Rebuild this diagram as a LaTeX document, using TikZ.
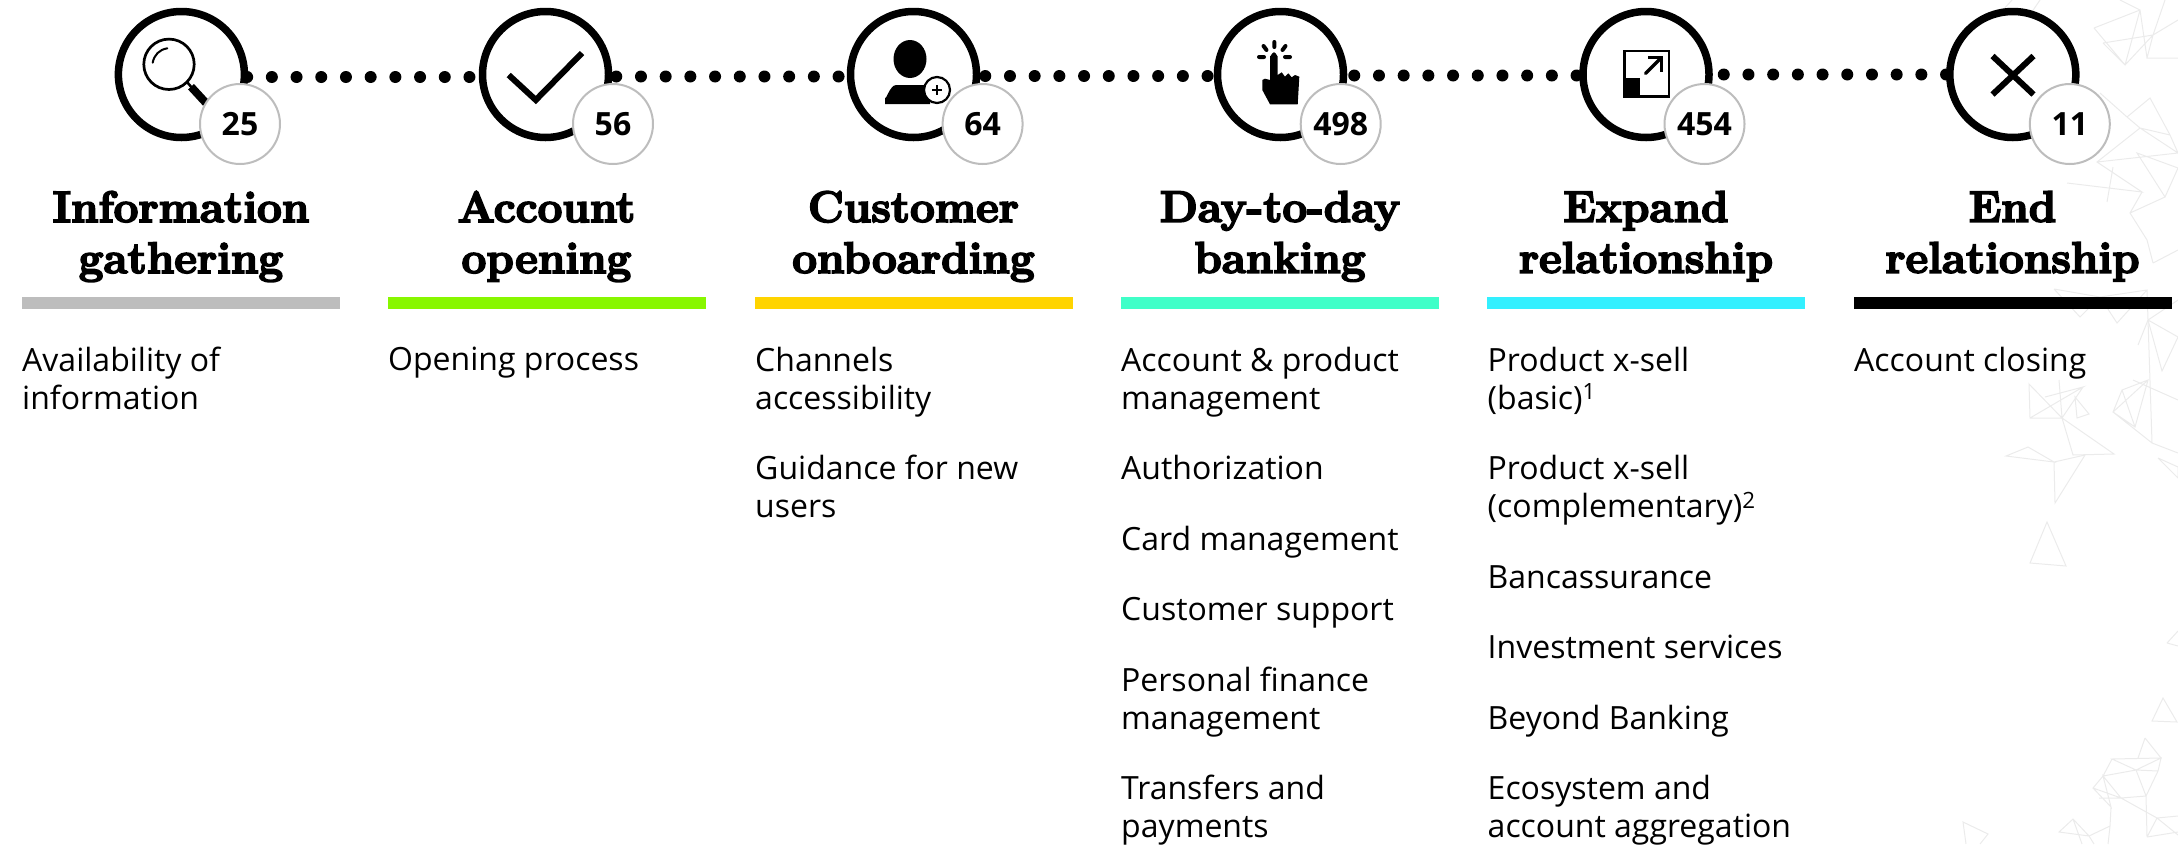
\documentclass[tikz,border=0pt]{standalone}
\usepackage{fontspec}
\setmainfont{Open Sans}
\newfontfamily\headfont[BoldFeatures={FakeBold=4}]{Latin Modern Roman}
\definecolor{meshgray}{HTML}{EBEBEB}
\definecolor{ringgray}{HTML}{BDBDBD}
\definecolor{bargreen}{HTML}{88F700}
\definecolor{baryellow}{HTML}{FFD400}
\definecolor{barteal}{HTML}{40FFC8}
\definecolor{barcyan}{HTML}{33F0FF}
\tikzset{
  stagering/.style={circle,draw=black,fill=white,line width=7.5pt,minimum size=126pt,inner sep=0pt},
  countbadge/.style={circle,draw=ringgray,fill=white,line width=2pt,minimum size=80pt,inner sep=0pt,font=\fontsize{32}{36}\selectfont\bfseries},
  stagehead/.style={align=center,inner sep=0pt,anchor=north,font=\fontsize{44}{51}\selectfont\headfont\bfseries},
  stagebar/.style={minimum width=318pt,minimum height=12pt,inner sep=0pt},
  stagelist/.style={align=left,inner sep=0pt,anchor=north west,font=\fontsize{32}{38}\selectfont},
  dotline/.style={line width=12pt,line cap=round,dash pattern=on 0pt off 24.7pt},
  meshline/.style={draw=meshgray,line width=1pt}
}
\begin{document}
\begin{tikzpicture}[x=1pt,y=-1pt]
  \useasboundingbox (0,0) rectangle (2178,844);

  \draw[meshline] (1983,32) -- (2012,0) (2025,22) -- (2040,0);
  \draw[meshline] (2094,28) -- (2125,65) -- (2140,10) -- (2120,0) (2094,28) -- (2140,10) (2103,43) -- (2153,35) -- (2178,20) (2125,65) -- (2153,35) -- (2147,58) -- (2178,58) (2103,43) -- (2125,65) (2140,10) -- (2147,58) (2165,0) -- (2153,35);
  \draw[meshline] (2100,93) -- (2127,117) -- (2150,98) -- (2170,135) -- (2140,128) -- (2097,162) -- (2142,192) -- (2067,183) (2127,117) -- (2140,128) -- (2178,153) -- (2097,162) (2113,167) -- (2107,202) (2142,192) -- (2130,213) -- (2147,240) -- (2153,263) (2165,197) -- (2178,168) -- (2137,153) -- (2165,197) -- (2130,213) (2170,135) -- (2178,153) (2153,263) -- (2178,250);
  \draw[meshline] (2054,289) -- (2100,297) -- (2147,290) -- (2148,320) -- (2162,371) -- (2178,337) -- (2148,320) -- (2138,345) (2054,289) -- (2080,317) -- (2100,297) -- (2117,323) -- (2147,290) (2148,320) -- (2178,300);
  \draw[meshline] (2148,380) -- (2113,412) -- (2135,427) -- (2148,380) -- (2122,390) -- (2113,412) (2122,390) -- (2135,427) (2148,320) -- (2152,443) -- (2178,453) (2113,412) -- (2152,443) (2133,380) -- (2178,400) (2158,458) -- (2178,478) -- (2178,467) -- (2158,458);
  \draw[meshline] (2029,384) -- (2062,418) -- (2030,418) -- cycle (2030,418) -- (2083,387) -- (2045,397) (2083,387) -- (2062,418) (2075,397) -- (2089,414) -- (2077,418) -- cycle (2059,380) -- (2062,418) -- (2114,454) -- (2073,455) -- (2062,418);
  \draw[meshline] (2006,456) -- (2028,447) -- (2054,462) -- cycle (2054,462) -- (2055,503) -- (2085,455) -- cycle;
  \draw[meshline] (2047,522) -- (2030,563) -- (2066,566) -- cycle;
  \draw[meshline] (2167,643) -- (2178,631) (2167,643) -- (2178,646);
  \draw[meshline] (2163,698) -- (2152,721) -- (2177,722) -- cycle;
  \draw[meshline] (2145,738) -- (2161,758) -- (2112,759) -- (2136,770) -- (2161,758) -- (2158,771) -- (2136,770) -- (2146,796) -- (2147,837) (2145,738) -- (2138,758) (2112,759) -- (2103,776) -- (2136,770) (2103,776) -- (2093,788) -- (2121,798) -- (2146,796) -- (2158,771) (2093,788) -- (2111,807) -- (2103,776) -- (2121,798) -- (2099,798) (2121,798) -- (2157,818) -- (2178,816) (2157,818) -- (2147,837) (2157,818) -- (2178,835) (2111,807) -- (2110,826) -- (2108,844) (2110,826) -- (2089,836) -- (2073,819) -- (2059,832) -- (2089,836) -- (2094,844) (2147,837) -- (2178,832) (2073,819) -- (2082,844);
  \draw[meshline] (1966,844) -- (1963,822) -- (1988,834) -- (1980,844);

  \node[stagering] (ring1) at (181.4,74.5) {};
  \node[stagering] (ring2) at (545.5,74.5) {};
  \node[stagering] (ring3) at (913.5,74.5) {};
  \node[stagering] (ring4) at (1280.5,74.5) {};
  \node[stagering] (ring5) at (1646,74.5) {};
  \node[stagering] (ring6) at (2012.8,74.5) {};

  \draw[dotline] ([xshift=-1pt,yshift=-2.5pt]ring1.east) -- ([yshift=-2.5pt]ring2.west);
  \draw[dotline] ([xshift=4pt,yshift=-2pt]ring2.east) -- ([yshift=-2pt]ring3.west);
  \draw[dotline] ([xshift=5pt,yshift=-1.5pt]ring3.east) -- ([yshift=-1.5pt]ring4.west);
  \draw[dotline] ([xshift=7pt,yshift=-1pt]ring4.east) -- ([xshift=2pt,yshift=-1pt]ring5.west);
  \draw[dotline] ([xshift=11pt]ring5.east) -- ([xshift=2pt]ring6.west);

  \draw[line width=2.7pt] (169,64.3) circle (25.2);
  \draw[line width=2pt,line cap=round] (152.7,62.7) to[bend left=35] (167.3,48.3);
  \draw[line width=2.5pt] (187,82) -- (193,89);
  \draw[line width=8pt] (191,86.7) -- (206,103);

  \draw[line width=6pt] (508.7,75) -- (535.8,100) -- (582,53);

  \fill (910,59) ellipse (16.5 and 19);
  \fill (885,104) -- (885,97) to[out=-90,in=180] (896,85) -- (930,85) -- (930,104) -- cycle;
  \draw[fill=white,line width=2.2pt] (937,90) circle (13);
  \draw[line width=2.2pt] (932,90) -- (942,90) (937,85) -- (937,95);

  \draw[line width=4pt,line cap=round] (1274.3,42) -- (1274.3,47) (1263.5,46) -- (1266.5,50) (1285.5,46) -- (1282.5,50) (1259,57) -- (1264,57) (1285,57) -- (1290,57);
  \fill (1270,56) to[out=-90,in=180] (1274,52.3) to[out=0,in=-90] (1277.7,56) -- (1277.7,75) -- (1281.7,72.3) -- (1285,76.7) -- (1288.3,73.3) -- (1291.7,77.3) -- (1295,75) -- (1299.3,76.7) -- (1297.7,104.3) -- (1270,104.3) -- (1262.3,90) -- (1262.3,80) -- (1265,78.7) -- (1270,80) -- cycle;

  \draw[line width=2.4pt] (1624.5,51) rectangle (1669,96.5);
  \fill (1624,78.3) rectangle (1640,97);
  \draw[line width=3.4pt,line cap=round] (1645.5,73.5) -- (1661,58);
  \draw[line width=3.4pt] (1648.3,57.5) -- (1661.5,57.5) -- (1661.5,71.7);

  \draw[line width=6pt] (1992.5,56) -- (2033.5,94.5) (2033.5,56) -- (1992.5,94.5);

  \node[countbadge] (count1) at (240,124) {25};
  \node[countbadge] (count2) at (613,124) {56};
  \node[countbadge] (count3) at (982.6,124) {64};
  \node[countbadge] (count4) at (1340.7,124) {498};
  \node[countbadge] (count5) at (1704.5,124) {454};
  \node[countbadge] (count6) at (2069.8,124) {11};

  \node[stagehead] (head1) at (181,191) {Information\\gathering};
  \node[stagehead] (head2) at (546.5,191) {Account\\opening};
  \node[stagehead] (head3) at (913.5,191) {Customer\\onboarding};
  \node[stagehead] (head4) at (1280,191) {Day-to-day\\banking};
  \node[stagehead] (head5) at (1646,191) {Expand\\relationship};
  \node[stagehead] (head6) at (2012.5,191) {End\\relationship};

  \node[stagebar,fill=ringgray] (bar1) at (181,303) {};
  \node[stagebar,fill=bargreen] (bar2) at (546.5,303) {};
  \node[stagebar,fill=baryellow] (bar3) at (913.5,303) {};
  \node[stagebar,fill=barteal] (bar4) at (1280,303) {};
  \node[stagebar,fill=barcyan] (bar5) at (1646,303) {};
  \node[stagebar,fill=black] (bar6) at (2012.5,303) {};

  \node[stagelist] (list1) at (22,346.5) {Availability of\\information};
  \node[stagelist] (list2) at (388,346.5) {Opening process};
  \node[stagelist] (list3) at (755,346.5) {Channels\\accessibility\\[32.5pt]Guidance for new\\users};
  \node[stagelist] (list4) at (1121,346.5) {Account \& product\\management\\[32.5pt]Authorization\\[32.5pt]Card management\\[32.5pt]Customer support\\[32.5pt]Personal finance\\management\\[32.5pt]Transfers and\\payments};
  \node[stagelist] (list5) at (1487.5,346.5) {Product x-sell\\(basic)\textsuperscript{1}\\[32.5pt]Product x-sell\\(complementary)\textsuperscript{2}\\[32.5pt]Bancassurance\\[32.5pt]Investment services\\[32.5pt]Beyond Banking\\[32.5pt]Ecosystem and\\account aggregation};
  \node[stagelist] (list6) at (1854,346.5) {Account closing};
\end{tikzpicture}
\end{document}
